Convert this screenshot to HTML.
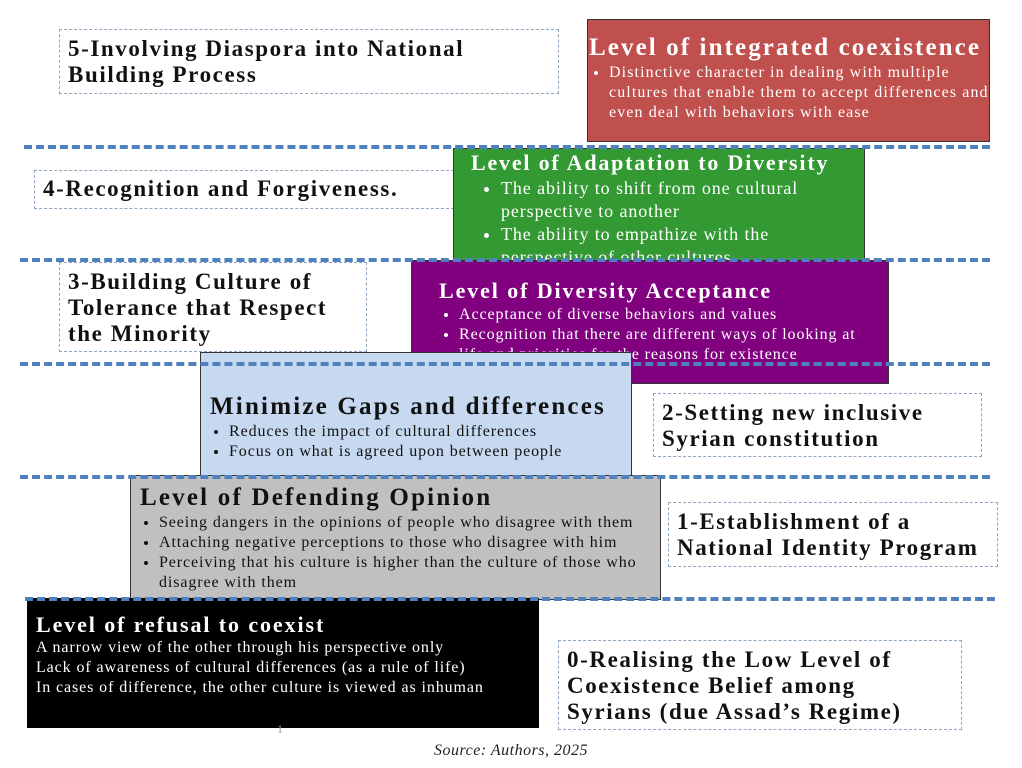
<!DOCTYPE html>
<html><head><meta charset="utf-8"><style>
body{margin:0;width:1022px;height:768px;background:#fff;position:relative;overflow:hidden;font-family:"Liberation Serif",serif}
.b{position:absolute;box-sizing:border-box;white-space:nowrap}
.d{border:1px dashed #8fa6bf;font-weight:bold;font-size:23px;letter-spacing:1.6px;line-height:26px;color:#111;padding:6px 8px}
.h{font-weight:bold;white-space:nowrap}
ul{margin:0;padding:0 0 0 20px;font-size:16px;letter-spacing:0.9px;line-height:20px}
.t{font-size:16px;letter-spacing:0.9px;line-height:20px}
.ln{position:absolute;height:0;border-top:4px dashed #4f81bd;z-index:5}
</style></head><body>
<div class="b d" style="left:59px;top:29px;width:500px;height:65px">5-Involving Diaspora into National<br>Building Process</div>
<div class="b d" style="left:34px;top:170px;width:430px;height:39px;padding-top:5px">4-Recognition and Forgiveness.</div>
<div class="b d" style="left:59px;top:262px;width:308px;height:90px;padding-top:6px">3-Building Culture of<br>Tolerance that Respect<br>the Minority</div>
<div class="b d" style="left:653px;top:393px;width:329px;height:64px">2-Setting new inclusive<br>Syrian constitution</div>
<div class="b d" style="left:668px;top:502px;width:330px;height:65px">1-Establishment of a<br>National Identity Program</div>
<div class="b d" style="left:558px;top:640px;width:404px;height:90px;padding-top:6px">0-Realising the Low Level of<br>Coexistence Belief among<br>Syrians (due Assad’s Regime)</div>

<div class="b" style="left:587px;top:19px;width:403px;height:123px;background:#c0504d;border:1px solid #333;color:#fff;padding:14px 0 0 1px">
<div class="h" style="font-size:25px;letter-spacing:2.1px;line-height:28px">Level of integrated coexistence</div>
<ul style="margin-top:1px;letter-spacing:1.1px"><li>Distinctive character in dealing with multiple<br>cultures that enable them to accept differences and<br>even deal with behaviors with ease</li></ul></div>

<div class="b" style="left:453px;top:148px;width:412px;height:114px;background:#339933;border:1px solid #333;color:#fff;padding:1px 0 0 17px;overflow:hidden">
<div class="h" style="font-size:22px;letter-spacing:1.8px;line-height:26px">Level of Adaptation to Diversity</div>
<ul style="font-size:18px;letter-spacing:0.9px;line-height:23px;padding-left:30px;margin-top:1px"><li>The ability to shift from one cultural<br>perspective to another</li><li>The ability to empathize with the<br>perspective of other cultures</li></ul></div>

<div class="b" style="left:411px;top:260px;width:478px;height:124px;background:#800080;border:1px solid #333;color:#fff;padding:16px 0 0 27px">
<div class="h" style="font-size:22px;letter-spacing:1.9px;line-height:28px">Level of Diversity Acceptance</div>
<ul style="padding-left:20px;margin-top:0px"><li>Acceptance of diverse behaviors and values</li><li>Recognition that there are different ways of looking at<br>life and priorities for the reasons for existence</li></ul></div>

<div class="b" style="left:200px;top:352px;width:432px;height:124px;background:#c6d9f1;border:1px solid #333;color:#111;padding:39px 0 0 9px">
<div class="h" style="font-size:25px;letter-spacing:2.2px;line-height:30px">Minimize Gaps and differences</div>
<ul style="padding-left:19px;margin-top:0px"><li>Reduces the impact of cultural differences</li><li>Focus on what is agreed upon between people</li></ul></div>

<div class="b" style="left:130px;top:475px;width:531px;height:125px;background:#c0c0c0;border:1px solid #333;color:#111;padding:7px 0 0 9px">
<div class="h" style="font-size:25px;letter-spacing:2.2px;line-height:30px">Level of Defending Opinion</div>
<ul style="padding-left:19px;margin-top:0px"><li>Seeing dangers in the opinions of people who disagree with them</li><li>Attaching negative perceptions to those who disagree with him</li><li>Perceiving that his culture is higher than the culture of those who<br>disagree with them</li></ul></div>

<div class="b" style="left:27px;top:598px;width:512px;height:130px;background:#000;color:#fff;padding:13px 0 0 9px">
<div class="h" style="font-size:22px;letter-spacing:1.9px;line-height:27px">Level of refusal to coexist</div>
<div class="t">A narrow view of the other through his perspective only<br>Lack of awareness of cultural differences (as a rule of life)<br>In cases of difference, the other culture is viewed as inhuman</div></div>

<div class="ln" style="left:24px;top:145px;width:966px"></div>
<div class="ln" style="left:20px;top:258px;width:970px"></div>
<div class="ln" style="left:20px;top:362px;width:970px"></div>
<div class="ln" style="left:20px;top:475px;width:970px"></div>
<div class="ln" style="left:25px;top:597px;width:970px"></div>

<div class="b" style="left:277px;top:722px;font-size:12px;color:#999">1</div>
<div class="b" style="left:0;width:1022px;top:742px;text-align:center;font-style:italic;font-size:16px;letter-spacing:0.5px;color:#222">Source: Authors, 2025</div>
</body></html>
